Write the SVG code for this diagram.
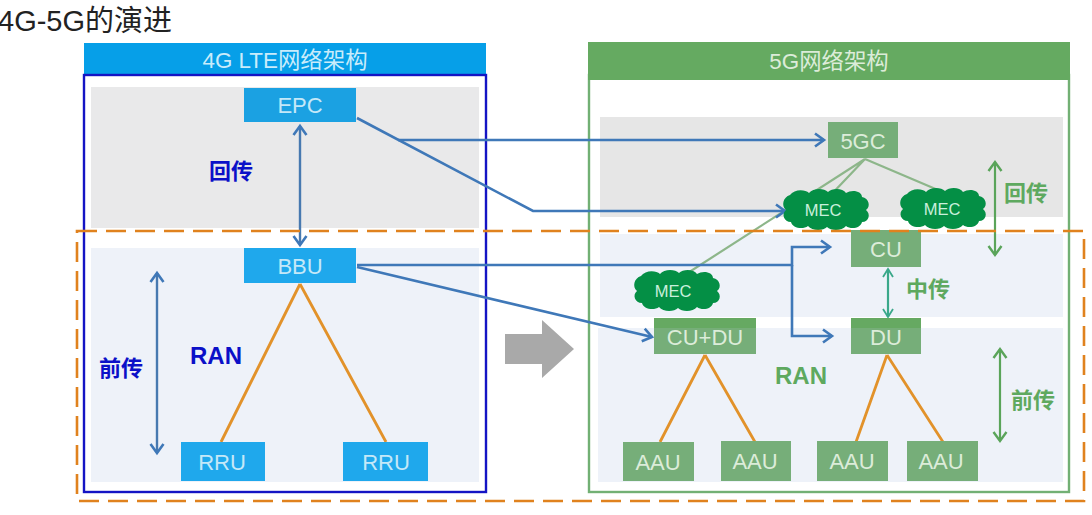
<svg xmlns="http://www.w3.org/2000/svg" xmlns:xlink="http://www.w3.org/1999/xlink" width="1092" height="515" viewBox="0 0 1092 515">
<style>
text{font-family:"Liberation Sans","Noto Sans CJK SC",sans-serif;text-anchor:middle}
.b{fill:#1ba1e2}.b2{fill:#1fa8ec}.g{fill:#76ae79}.band{fill:#66a962}
.nt{font-size:22px}.bt{fill:#c4e8f8}.gt{fill:#dcecd9}
.hd{font-size:22.4px}
.blab{font-size:22px;font-weight:700;fill:#0b10c8}
.glab{font-size:22px;font-weight:700;fill:#5ea95f}
.ran{font-size:24px}
.ln{fill:none;stroke:#3f78b8;stroke-width:2.6}
.dbl{fill:none;stroke:#4779b0;stroke-width:2.4}
.gl{fill:none;stroke:#8db68a;stroke-width:2.2}
.or{fill:none;stroke:#e2922a;stroke-width:2.8}
.ga{fill:none;stroke:#5aa45a;stroke-width:2.2}
</style>
<defs>
<marker id="aB" markerUnits="userSpaceOnUse" markerWidth="16" markerHeight="16" refX="13" refY="8" orient="auto-start-reverse"><path d="M4 1.5L13 8L4 14.5" fill="none" stroke="#3f78b8" stroke-width="2.6"/></marker>
<marker id="aG" markerUnits="userSpaceOnUse" markerWidth="16" markerHeight="16" refX="13" refY="8" orient="auto-start-reverse"><path d="M4 1.5L13 8L4 14.5" fill="none" stroke="#5aa45a" stroke-width="2.4"/></marker>
<marker id="aT" markerUnits="userSpaceOnUse" markerWidth="14" markerHeight="14" refX="11" refY="7" orient="auto-start-reverse"><path d="M3 2L11 7L3 12" fill="none" stroke="#3aa88a" stroke-width="1.8"/></marker>
<path id="cloud" fill="#048f45" d="M-36-15C-32-21-21-21-17-17C-13-22-2-22 2-18C6-22 17-22 20-17C26-21 36-19 36-13C43-12 45-3 40 0C45 4 43 12 36 12C35 18 25 20 20 16C16 21 5 21 1 17C-3 21-14 21-18 16C-23 20-34 18-35 12C-42 12-45 4-40 0C-45-4-43-13-36-15Z"/>
</defs>
<rect width="1092" height="515" fill="#fff"/>
<text id="title" x="-2" y="31" font-size="29" style="text-anchor:start" fill="#222">4G-5G的演进</text>

<g id="panel-4g">
<rect x="84" y="43" width="402" height="32" fill="#069fe8"/>
<text class="hd" x="285" y="68" fill="#c9ecfb">4G LTE网络架构</text>
<rect x="91" y="87" width="388" height="141" fill="#e9e9ea"/>
<rect x="91" y="248" width="388" height="234" fill="#eef2f9"/>
<rect x="84" y="75" width="402" height="417" fill="none" stroke="#1414c4" stroke-width="2.4"/>
</g>
<g id="panel-5g">
<rect x="589" y="75" width="480" height="417" fill="none" stroke="#72b074" stroke-width="2.4"/>
<rect x="588" y="42" width="482" height="38" fill="#65aa61"/>
<text class="hd" x="829" y="69" fill="#dcecd9">5G网络架构</text>
<rect x="600" y="117" width="463" height="100" fill="#e6e6e6"/>
<rect x="600" y="234" width="463" height="83" fill="#eef2f9"/>
<rect x="598" y="328" width="465" height="154" fill="#eef2f9"/>
</g>
<path id="big-arrow" d="M505 334H542V320L574 349L542 378V364H505Z" fill="#a9a9a9"/>

<g id="connectors">
<path class="or" d="M300 284L221 442M300 284L386 442M705 355L660 442M705 355L755 442M887 355L856 442M887 355L943 442"/>
<path class="gl" d="M865 159L680 278M865 159L826 200M865 159L945 193"/>
<path class="dbl" d="M300 126V245" marker-start="url(#aB)" marker-end="url(#aB)"/>
<path class="dbl" d="M157 273V453" marker-start="url(#aB)" marker-end="url(#aB)"/>
<path class="ln" d="M398 140H824" marker-end="url(#aB)"/>
<path class="ln" d="M357 118L533 211H785" marker-end="url(#aB)"/>
<path class="ln" d="M357 265H792V247H830" marker-end="url(#aB)"/>
<path class="ln" d="M792 265V336H832" marker-end="url(#aB)"/>
<path class="ln" d="M357 267L652 337" marker-end="url(#aB)"/>
<path class="ga" d="M995 162V255" marker-start="url(#aG)" marker-end="url(#aG)"/>
<path class="ga" style="stroke:#3aa88a" d="M888 269V317" marker-start="url(#aT)" marker-end="url(#aT)"/>
<path class="ga" d="M1000 349V441" marker-start="url(#aG)" marker-end="url(#aG)"/>
</g>

<g id="epc"><rect class="b" x="244" y="88" width="112" height="34"/><text class="nt bt" x="300" y="113">EPC</text></g>
<g id="bbu"><rect class="b2" x="244" y="248" width="112" height="35"/><text class="nt bt" x="300" y="274">BBU</text></g>
<g id="rru1"><rect class="b2" x="181" y="442" width="84" height="39"/><text class="nt bt" x="222" y="470">RRU</text></g>
<g id="rru2"><rect class="b2" x="343" y="442" width="85" height="39"/><text class="nt bt" x="386" y="470">RRU</text></g>

<g id="n5gc"><rect class="g" x="828" y="122" width="70" height="36"/><text class="nt gt" x="863" y="149">5GC</text></g>
<g id="cu"><rect class="g" x="851" y="230" width="70" height="37"/><text class="nt gt" x="886" y="257">CU</text></g>
<g id="du"><rect class="g" x="851" y="318" width="70" height="36"/><rect class="band" x="851" y="318" width="70" height="10"/><text class="nt gt" x="886" y="345">DU</text></g>
<g id="cudu"><rect class="g" x="654" y="318" width="102" height="36"/><rect class="band" x="654" y="318" width="102" height="10"/><text class="nt gt" x="705" y="345">CU+DU</text></g>
<g id="aau1"><rect class="g" x="623" y="442" width="71" height="39"/><text class="nt gt" x="658" y="470">AAU</text></g>
<g id="aau2"><rect class="g" x="721" y="441" width="70" height="40"/><text class="nt gt" x="755" y="469">AAU</text></g>
<g id="aau3"><rect class="g" x="817" y="441" width="71" height="40"/><text class="nt gt" x="852" y="469">AAU</text></g>
<g id="aau4"><rect class="g" x="907" y="441" width="71" height="40"/><text class="nt gt" x="941" y="469">AAU</text></g>

<g id="mec1"><use xlink:href="#cloud" href="#cloud" x="826" y="210"/><text x="823" y="216" font-size="16.5" fill="#c9f0dc">MEC</text></g>
<g id="mec2"><use xlink:href="#cloud" href="#cloud" x="943" y="209"/><text x="942" y="215" font-size="16.5" fill="#c9f0dc">MEC</text></g>
<g id="mec3"><use xlink:href="#cloud" href="#cloud" x="677" y="291"/><text x="673" y="297" font-size="16.5" fill="#c9f0dc">MEC</text></g>

<text class="blab" x="231" y="179">回传</text>
<text class="blab" x="121" y="376">前传</text>
<text class="blab ran" x="216" y="364">RAN</text>
<text class="glab" x="1026" y="201">回传</text>
<text class="glab" x="928" y="297">中传</text>
<text class="glab ran" x="801" y="384">RAN</text>
<text class="glab" x="1033" y="408">前传</text>

<rect id="ran-frame" x="77" y="231" width="1007" height="270" fill="none" stroke="#e0821e" stroke-width="2.6" stroke-dasharray="20 9"/>
</svg>
